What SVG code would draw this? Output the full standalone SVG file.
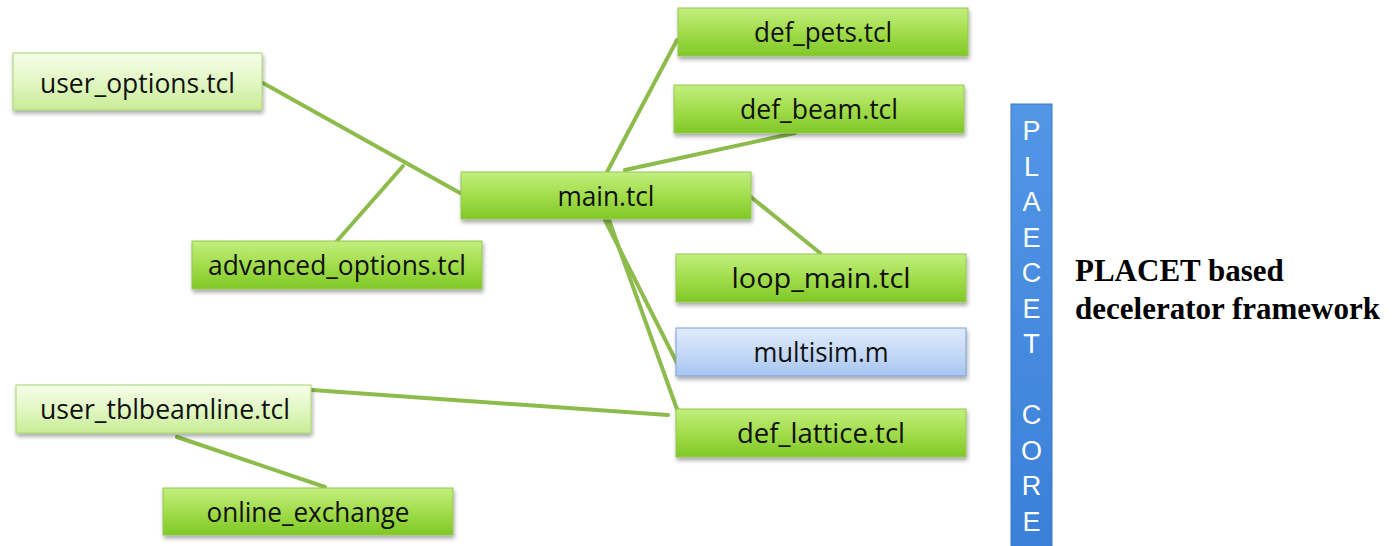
<svg xmlns="http://www.w3.org/2000/svg" width="1396" height="546" viewBox="0 0 1396 546">
  <defs>
    <linearGradient id="gGreen" x1="0" y1="0" x2="0" y2="1">
      <stop offset="0" stop-color="#c2ef7e"/>
      <stop offset="0.5" stop-color="#a2dd4c"/>
      <stop offset="1" stop-color="#7fc826"/>
    </linearGradient>
    <linearGradient id="gLight" x1="0" y1="0" x2="0" y2="1">
      <stop offset="0" stop-color="#f6fdea"/>
      <stop offset="0.5" stop-color="#e2f7c4"/>
      <stop offset="1" stop-color="#c8ec95"/>
    </linearGradient>
    <linearGradient id="gBlue" x1="0" y1="0" x2="0" y2="1">
      <stop offset="0" stop-color="#e0ebfb"/>
      <stop offset="0.5" stop-color="#c6daf6"/>
      <stop offset="1" stop-color="#a7c5ef"/>
    </linearGradient>
    <linearGradient id="gBar" x1="0" y1="0" x2="0" y2="1">
      <stop offset="0" stop-color="#5296e6"/>
      <stop offset="1" stop-color="#3a80d8"/>
    </linearGradient>
    <filter id="shadow" x="-10%" y="-20%" width="120%" height="160%">
      <feGaussianBlur in="SourceAlpha" stdDeviation="2"/>
      <feOffset dx="1" dy="3" result="b"/>
      <feComponentTransfer><feFuncA type="linear" slope="0.35"/></feComponentTransfer>
      <feMerge><feMergeNode/><feMergeNode in="SourceGraphic"/></feMerge>
    </filter>
  </defs>
  <style>
    .box { stroke: #96c653; stroke-width: 1; filter: url(#shadow); }
    .green { fill: url(#gGreen); }
    .light { fill: url(#gLight); stroke: #a9d46e; }
    .blue { fill: url(#gBlue); stroke: #7b9fd4; }
    .lbl { font-family: "Open Sans", "Liberation Sans", sans-serif; font-size: 27px; fill: #111; text-anchor: middle; }
    .conn line { stroke: #8dbb4c; stroke-width: 4; stroke-linecap: round; }
    .bar { fill: url(#gBar); stroke: #3f78c4; stroke-width: 1; }
    .barTxt { font-family: "Liberation Sans", Arial, sans-serif; font-size: 27px; fill: #ffffff; text-anchor: middle; }
    .side { font-family: "Liberation Serif", "Times New Roman", serif; font-size: 31px; font-weight: bold; fill: #000; }
  </style>
  <rect width="1396" height="546" fill="#ffffff"/>

  <g id="connectors" class="conn">
    <line x1="263" y1="83" x2="460" y2="193"/>
    <line x1="337" y1="241" x2="403" y2="166"/>
    <line x1="607" y1="172" x2="677" y2="40"/>
    <line x1="625" y1="170" x2="795" y2="133"/>
    <line x1="751" y1="197" x2="820" y2="253"/>
    <line x1="605" y1="220" x2="677" y2="363"/>
    <line x1="609" y1="220" x2="678" y2="412"/>
    <line x1="312" y1="390" x2="668" y2="415"/>
    <line x1="177" y1="437" x2="325" y2="487"/>
  </g>

  <g id="node-user_options">
    <rect class="box light" x="13" y="53" width="249" height="57"/>
    <text class="lbl" x="137.5" y="93" textLength="195" lengthAdjust="spacingAndGlyphs">user_options.tcl</text>
  </g>
  <g id="node-advanced_options">
    <rect class="box green" x="192" y="241" width="290" height="48"/>
    <text class="lbl" x="337" y="275" textLength="258" lengthAdjust="spacingAndGlyphs">advanced_options.tcl</text>
  </g>
  <g id="node-main">
    <rect class="box green" x="461" y="172" width="290" height="47"/>
    <text class="lbl" x="606" y="206" textLength="97" lengthAdjust="spacingAndGlyphs">main.tcl</text>
  </g>
  <g id="node-def_pets">
    <rect class="box green" x="678" y="8" width="290" height="48"/>
    <text class="lbl" x="823" y="42" textLength="138" lengthAdjust="spacingAndGlyphs">def_pets.tcl</text>
  </g>
  <g id="node-def_beam">
    <rect class="box green" x="674" y="85" width="290" height="48"/>
    <text class="lbl" x="819" y="119" textLength="158" lengthAdjust="spacingAndGlyphs">def_beam.tcl</text>
  </g>
  <g id="node-loop_main">
    <rect class="box green" x="676" y="254" width="290" height="48"/>
    <text class="lbl" x="821" y="288" textLength="179" lengthAdjust="spacingAndGlyphs">loop_main.tcl</text>
  </g>
  <g id="node-multisim">
    <rect class="box blue" x="676" y="328" width="290" height="48"/>
    <text class="lbl" x="821" y="362" textLength="135" lengthAdjust="spacingAndGlyphs">multisim.m</text>
  </g>
  <g id="node-def_lattice">
    <rect class="box green" x="676" y="409" width="290" height="48"/>
    <text class="lbl" x="821" y="443" textLength="168" lengthAdjust="spacingAndGlyphs">def_lattice.tcl</text>
  </g>
  <g id="node-user_tblbeamline">
    <rect class="box light" x="16" y="385" width="295" height="48"/>
    <text class="lbl" x="165" y="419" textLength="250" lengthAdjust="spacingAndGlyphs">user_tblbeamline.tcl</text>
  </g>
  <g id="node-online_exchange">
    <rect class="box green" x="163" y="488" width="290" height="47"/>
    <text class="lbl" x="308" y="522" textLength="203" lengthAdjust="spacingAndGlyphs">online_exchange</text>
  </g>

  <g id="node-placet_core">
    <rect class="bar" x="1011" y="104" width="41" height="450"/>
    <text class="barTxt" x="1031.5" y="140">P</text>
    <text class="barTxt" x="1031.5" y="175.5">L</text>
    <text class="barTxt" x="1031.5" y="211">A</text>
    <text class="barTxt" x="1031.5" y="246.5">E</text>
    <text class="barTxt" x="1031.5" y="282">C</text>
    <text class="barTxt" x="1031.5" y="317.5">E</text>
    <text class="barTxt" x="1031.5" y="353">T</text>
    <text class="barTxt" x="1031.5" y="424">C</text>
    <text class="barTxt" x="1031.5" y="459.5">O</text>
    <text class="barTxt" x="1031.5" y="495">R</text>
    <text class="barTxt" x="1031.5" y="530.5">E</text>
  </g>

  <g id="node-framework_label">
    <text class="side" x="1075" y="281">PLACET based</text>
    <text class="side" x="1075" y="319">decelerator framework</text>
  </g>
</svg>
